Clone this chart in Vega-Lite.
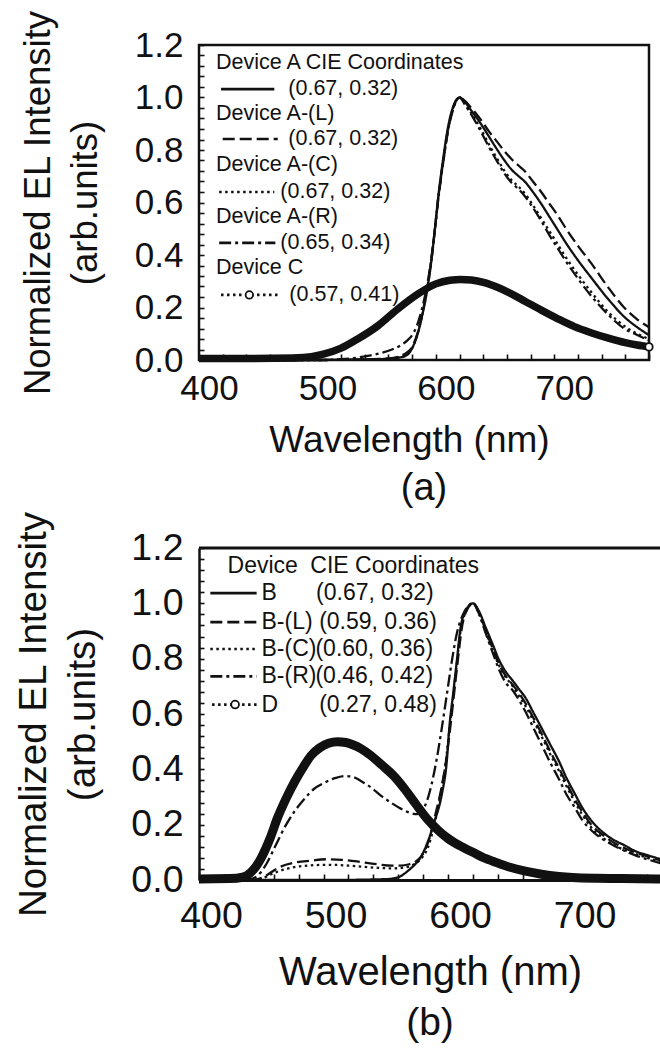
{
  "$schema": "https://vega.github.io/schema/vega-lite/v6.json",
  "padding": {"left": 14, "top": 8, "right": 0, "bottom": 0},
  "spacing": 0,
  "background": "white",
  "config": {
    "font": "Liberation Sans",
    "view": {"stroke": null},
    "axis": {
      "grid": false,
      "domain": false,
      "labelColor": "#111",
      "titleColor": "#111",
      "tickColor": "#111",
      "tickWidth": 1.6,
      "labelFont": "Liberation Sans",
      "titleFont": "Liberation Sans",
      "titleFontWeight": "normal",
      "labelOverlap": false,
      "labelFlush": false
    },
    "title": {"font": "Liberation Sans", "fontWeight": "normal", "color": "#111"}
  },
  "datasets": {
    "redA": [
      {"s":"A","x":400,"y":0},{"s":"A","x":450,"y":0},{"s":"A","x":500,"y":0},{"s":"A","x":540,"y":0.002},{"s":"A","x":560,"y":0.005},{"s":"A","x":570,"y":0.01},{"s":"A","x":576,"y":0.02},{"s":"A","x":580,"y":0.045},{"s":"A","x":584,"y":0.09},{"s":"A","x":588,"y":0.16},{"s":"A","x":592,"y":0.25},{"s":"A","x":596,"y":0.37},{"s":"A","x":599,"y":0.49},{"s":"A","x":602,"y":0.62},{"s":"A","x":606,"y":0.76},{"s":"A","x":610,"y":0.88},{"s":"A","x":615,"y":0.97},{"s":"A","x":620,"y":1.0},{"s":"A","x":625,"y":0.98},{"s":"A","x":630,"y":0.95},{"s":"A","x":638,"y":0.9},{"s":"A","x":645,"y":0.85},{"s":"A","x":652,"y":0.8},{"s":"A","x":658,"y":0.76},{"s":"A","x":664,"y":0.725},{"s":"A","x":670,"y":0.7},{"s":"A","x":675,"y":0.68},{"s":"A","x":682,"y":0.64},{"s":"A","x":689,"y":0.595},{"s":"A","x":696,"y":0.545},{"s":"A","x":703,"y":0.495},{"s":"A","x":710,"y":0.445},{"s":"A","x":720,"y":0.38},{"s":"A","x":731,"y":0.315},{"s":"A","x":745,"y":0.235},{"s":"A","x":759,"y":0.165},{"s":"A","x":770,"y":0.125},{"s":"A","x":780,"y":0.095},
      {"s":"A-(L)","x":400,"y":0},{"s":"A-(L)","x":500,"y":0},{"s":"A-(L)","x":540,"y":0.003},{"s":"A-(L)","x":560,"y":0.006},{"s":"A-(L)","x":570,"y":0.015},{"s":"A-(L)","x":576,"y":0.03},{"s":"A-(L)","x":580,"y":0.05},{"s":"A-(L)","x":584,"y":0.095},{"s":"A-(L)","x":588,"y":0.165},{"s":"A-(L)","x":592,"y":0.255},{"s":"A-(L)","x":596,"y":0.375},{"s":"A-(L)","x":599,"y":0.49},{"s":"A-(L)","x":602,"y":0.615},{"s":"A-(L)","x":606,"y":0.75},{"s":"A-(L)","x":610,"y":0.87},{"s":"A-(L)","x":615,"y":0.965},{"s":"A-(L)","x":620,"y":1.0},{"s":"A-(L)","x":625,"y":0.985},{"s":"A-(L)","x":630,"y":0.96},{"s":"A-(L)","x":638,"y":0.915},{"s":"A-(L)","x":645,"y":0.87},{"s":"A-(L)","x":652,"y":0.83},{"s":"A-(L)","x":658,"y":0.795},{"s":"A-(L)","x":664,"y":0.765},{"s":"A-(L)","x":670,"y":0.74},{"s":"A-(L)","x":675,"y":0.72},{"s":"A-(L)","x":682,"y":0.68},{"s":"A-(L)","x":689,"y":0.64},{"s":"A-(L)","x":696,"y":0.595},{"s":"A-(L)","x":703,"y":0.55},{"s":"A-(L)","x":710,"y":0.5},{"s":"A-(L)","x":720,"y":0.435},{"s":"A-(L)","x":731,"y":0.37},{"s":"A-(L)","x":745,"y":0.28},{"s":"A-(L)","x":759,"y":0.2},{"s":"A-(L)","x":770,"y":0.155},{"s":"A-(L)","x":780,"y":0.125},
      {"s":"A-(C)","x":400,"y":0},{"s":"A-(C)","x":500,"y":0},{"s":"A-(C)","x":540,"y":0.002},{"s":"A-(C)","x":560,"y":0.005},{"s":"A-(C)","x":570,"y":0.012},{"s":"A-(C)","x":576,"y":0.022},{"s":"A-(C)","x":580,"y":0.045},{"s":"A-(C)","x":584,"y":0.09},{"s":"A-(C)","x":588,"y":0.16},{"s":"A-(C)","x":592,"y":0.25},{"s":"A-(C)","x":596,"y":0.37},{"s":"A-(C)","x":599,"y":0.49},{"s":"A-(C)","x":602,"y":0.615},{"s":"A-(C)","x":606,"y":0.75},{"s":"A-(C)","x":610,"y":0.87},{"s":"A-(C)","x":615,"y":0.965},{"s":"A-(C)","x":620,"y":1.0},{"s":"A-(C)","x":625,"y":0.975},{"s":"A-(C)","x":630,"y":0.94},{"s":"A-(C)","x":638,"y":0.88},{"s":"A-(C)","x":645,"y":0.82},{"s":"A-(C)","x":652,"y":0.765},{"s":"A-(C)","x":658,"y":0.72},{"s":"A-(C)","x":664,"y":0.685},{"s":"A-(C)","x":670,"y":0.66},{"s":"A-(C)","x":675,"y":0.635},{"s":"A-(C)","x":682,"y":0.59},{"s":"A-(C)","x":689,"y":0.54},{"s":"A-(C)","x":696,"y":0.49},{"s":"A-(C)","x":703,"y":0.44},{"s":"A-(C)","x":710,"y":0.39},{"s":"A-(C)","x":720,"y":0.325},{"s":"A-(C)","x":731,"y":0.26},{"s":"A-(C)","x":745,"y":0.185},{"s":"A-(C)","x":759,"y":0.13},{"s":"A-(C)","x":770,"y":0.1},{"s":"A-(C)","x":780,"y":0.08},
      {"s":"A-(R)","x":400,"y":0},{"s":"A-(R)","x":500,"y":0},{"s":"A-(R)","x":520,"y":0.003},{"s":"A-(R)","x":535,"y":0.01},{"s":"A-(R)","x":545,"y":0.018},{"s":"A-(R)","x":555,"y":0.028},{"s":"A-(R)","x":563,"y":0.04},{"s":"A-(R)","x":570,"y":0.055},{"s":"A-(R)","x":576,"y":0.075},{"s":"A-(R)","x":580,"y":0.095},{"s":"A-(R)","x":584,"y":0.13},{"s":"A-(R)","x":588,"y":0.19},{"s":"A-(R)","x":592,"y":0.27},{"s":"A-(R)","x":596,"y":0.38},{"s":"A-(R)","x":599,"y":0.49},{"s":"A-(R)","x":602,"y":0.61},{"s":"A-(R)","x":606,"y":0.745},{"s":"A-(R)","x":610,"y":0.865},{"s":"A-(R)","x":615,"y":0.96},{"s":"A-(R)","x":620,"y":1.0},{"s":"A-(R)","x":625,"y":0.97},{"s":"A-(R)","x":630,"y":0.935},{"s":"A-(R)","x":638,"y":0.87},{"s":"A-(R)","x":645,"y":0.81},{"s":"A-(R)","x":652,"y":0.755},{"s":"A-(R)","x":658,"y":0.71},{"s":"A-(R)","x":664,"y":0.675},{"s":"A-(R)","x":670,"y":0.65},{"s":"A-(R)","x":675,"y":0.625},{"s":"A-(R)","x":682,"y":0.58},{"s":"A-(R)","x":689,"y":0.53},{"s":"A-(R)","x":696,"y":0.475},{"s":"A-(R)","x":703,"y":0.425},{"s":"A-(R)","x":710,"y":0.375},{"s":"A-(R)","x":720,"y":0.31},{"s":"A-(R)","x":731,"y":0.245},{"s":"A-(R)","x":745,"y":0.175},{"s":"A-(R)","x":759,"y":0.12},{"s":"A-(R)","x":770,"y":0.095},{"s":"A-(R)","x":780,"y":0.075}
    ],
    "devC": [
      {"x":400,"y":0.006},{"x":440,"y":0.006},{"x":480,"y":0.008},{"x":495,"y":0.013},{"x":505,"y":0.022},{"x":520,"y":0.045},{"x":534,"y":0.08},{"x":551,"y":0.13},{"x":568,"y":0.195},{"x":585,"y":0.252},{"x":600,"y":0.29},{"x":612,"y":0.304},{"x":621,"y":0.307},{"x":630,"y":0.305},{"x":641,"y":0.295},{"x":652,"y":0.277},{"x":663,"y":0.254},{"x":676,"y":0.222},{"x":689,"y":0.19},{"x":703,"y":0.157},{"x":717,"y":0.127},{"x":731,"y":0.104},{"x":745,"y":0.084},{"x":760,"y":0.066},{"x":770,"y":0.057},{"x":780,"y":0.05}
    ],
    "legA": [
      {"s":"A","x":418.6,"y":1.032},{"s":"A","x":463.6,"y":1.032},
      {"s":"A-(L)","x":420,"y":0.842},{"s":"A-(L)","x":466.5,"y":0.842},
      {"s":"A-(C)","x":417,"y":0.64},{"s":"A-(C)","x":463.6,"y":0.64},
      {"s":"A-(R)","x":417,"y":0.446},{"s":"A-(R)","x":464.5,"y":0.446},
      {"s":"C","x":418.6,"y":0.248},{"s":"C","x":466.5,"y":0.248}
    ],
    "ptsA": [{"x":780,"y":0.05},{"x":442.5,"y":0.248}],
    "textA": [
      {"t":"Device A  CIE Coordinates","x":414.4,"y":1.133},
      {"t":"(0.67, 0.32)","x":475.4,"y":1.032},
      {"t":"Device A-(L)","x":414.4,"y":0.937},
      {"t":"(0.67, 0.32)","x":475.4,"y":0.842},
      {"t":"Device A-(C)","x":414.4,"y":0.743},
      {"t":"(0.67, 0.32)","x":468.7,"y":0.64},
      {"t":"Device A-(R)","x":414.4,"y":0.545},
      {"t":"(0.65, 0.34)","x":468.7,"y":0.446},
      {"t":"Device C","x":414.4,"y":0.35},
      {"t":"(0.57, 0.41)","x":476.3,"y":0.248}
    ],
    "redB": [
      {"s":"B","x":400,"y":0},{"s":"B","x":500,"y":0},{"s":"B","x":550,"y":0.003},{"s":"B","x":560,"y":0.01},{"s":"B","x":567,"y":0.03},{"s":"B","x":572,"y":0.05},{"s":"B","x":577,"y":0.075},{"s":"B","x":583,"y":0.13},{"s":"B","x":589,"y":0.21},{"s":"B","x":595,"y":0.31},{"s":"B","x":599,"y":0.43},{"s":"B","x":601,"y":0.55},{"s":"B","x":604,"y":0.67},{"s":"B","x":607,"y":0.79},{"s":"B","x":610,"y":0.91},{"s":"B","x":615,"y":0.98},{"s":"B","x":620,"y":1.0},{"s":"B","x":625,"y":0.97},{"s":"B","x":630,"y":0.915},{"s":"B","x":636,"y":0.85},{"s":"B","x":641,"y":0.795},{"s":"B","x":646,"y":0.755},{"s":"B","x":652,"y":0.72},{"s":"B","x":657,"y":0.69},{"s":"B","x":662,"y":0.66},{"s":"B","x":668,"y":0.61},{"s":"B","x":675,"y":0.55},{"s":"B","x":682,"y":0.49},{"s":"B","x":689,"y":0.43},{"s":"B","x":695,"y":0.37},{"s":"B","x":702,"y":0.31},{"s":"B","x":708,"y":0.26},{"s":"B","x":715,"y":0.215},{"s":"B","x":725,"y":0.17},{"s":"B","x":735,"y":0.14},{"s":"B","x":742,"y":0.125},{"s":"B","x":750,"y":0.105},{"s":"B","x":760,"y":0.09},{"s":"B","x":771,"y":0.075},
      {"s":"B-(L)","x":400,"y":0},{"s":"B-(L)","x":440,"y":0},{"s":"B-(L)","x":450,"y":0.007},{"s":"B-(L)","x":457,"y":0.025},{"s":"B-(L)","x":464,"y":0.045},{"s":"B-(L)","x":477,"y":0.063},{"s":"B-(L)","x":490,"y":0.07},{"s":"B-(L)","x":503,"y":0.075},{"s":"B-(L)","x":515,"y":0.073},{"s":"B-(L)","x":525,"y":0.068},{"s":"B-(L)","x":543,"y":0.057},{"s":"B-(L)","x":555,"y":0.052},{"s":"B-(L)","x":562,"y":0.052},{"s":"B-(L)","x":568,"y":0.056},{"s":"B-(L)","x":575,"y":0.07},{"s":"B-(L)","x":580,"y":0.095},{"s":"B-(L)","x":585,"y":0.15},{"s":"B-(L)","x":590,"y":0.24},{"s":"B-(L)","x":595,"y":0.34},{"s":"B-(L)","x":599,"y":0.45},{"s":"B-(L)","x":602,"y":0.56},{"s":"B-(L)","x":605,"y":0.68},{"s":"B-(L)","x":608,"y":0.8},{"s":"B-(L)","x":611,"y":0.91},{"s":"B-(L)","x":615,"y":0.975},{"s":"B-(L)","x":620,"y":1.0},{"s":"B-(L)","x":625,"y":0.965},{"s":"B-(L)","x":630,"y":0.905},{"s":"B-(L)","x":636,"y":0.835},{"s":"B-(L)","x":641,"y":0.78},{"s":"B-(L)","x":646,"y":0.74},{"s":"B-(L)","x":652,"y":0.705},{"s":"B-(L)","x":657,"y":0.675},{"s":"B-(L)","x":662,"y":0.64},{"s":"B-(L)","x":668,"y":0.59},{"s":"B-(L)","x":675,"y":0.53},{"s":"B-(L)","x":682,"y":0.465},{"s":"B-(L)","x":689,"y":0.405},{"s":"B-(L)","x":695,"y":0.35},{"s":"B-(L)","x":702,"y":0.29},{"s":"B-(L)","x":708,"y":0.245},{"s":"B-(L)","x":715,"y":0.2},{"s":"B-(L)","x":725,"y":0.16},{"s":"B-(L)","x":735,"y":0.13},{"s":"B-(L)","x":742,"y":0.115},{"s":"B-(L)","x":750,"y":0.1},{"s":"B-(L)","x":760,"y":0.085},{"s":"B-(L)","x":771,"y":0.07},
      {"s":"B-(C)","x":400,"y":0},{"s":"B-(C)","x":440,"y":0},{"s":"B-(C)","x":450,"y":0.005},{"s":"B-(C)","x":460,"y":0.025},{"s":"B-(C)","x":475,"y":0.045},{"s":"B-(C)","x":490,"y":0.053},{"s":"B-(C)","x":505,"y":0.055},{"s":"B-(C)","x":520,"y":0.052},{"s":"B-(C)","x":540,"y":0.045},{"s":"B-(C)","x":555,"y":0.042},{"s":"B-(C)","x":565,"y":0.045},{"s":"B-(C)","x":572,"y":0.055},{"s":"B-(C)","x":578,"y":0.075},{"s":"B-(C)","x":584,"y":0.12},{"s":"B-(C)","x":589,"y":0.2},{"s":"B-(C)","x":594,"y":0.31},{"s":"B-(C)","x":598,"y":0.42},{"s":"B-(C)","x":601,"y":0.54},{"s":"B-(C)","x":604,"y":0.66},{"s":"B-(C)","x":607,"y":0.78},{"s":"B-(C)","x":610,"y":0.9},{"s":"B-(C)","x":615,"y":0.975},{"s":"B-(C)","x":620,"y":1.0},{"s":"B-(C)","x":625,"y":0.96},{"s":"B-(C)","x":630,"y":0.9},{"s":"B-(C)","x":636,"y":0.83},{"s":"B-(C)","x":641,"y":0.775},{"s":"B-(C)","x":646,"y":0.735},{"s":"B-(C)","x":652,"y":0.7},{"s":"B-(C)","x":657,"y":0.665},{"s":"B-(C)","x":662,"y":0.63},{"s":"B-(C)","x":668,"y":0.58},{"s":"B-(C)","x":675,"y":0.52},{"s":"B-(C)","x":682,"y":0.455},{"s":"B-(C)","x":689,"y":0.395},{"s":"B-(C)","x":695,"y":0.34},{"s":"B-(C)","x":702,"y":0.28},{"s":"B-(C)","x":708,"y":0.235},{"s":"B-(C)","x":715,"y":0.19},{"s":"B-(C)","x":725,"y":0.15},{"s":"B-(C)","x":735,"y":0.122},{"s":"B-(C)","x":742,"y":0.108},{"s":"B-(C)","x":750,"y":0.095},{"s":"B-(C)","x":760,"y":0.08},{"s":"B-(C)","x":771,"y":0.065},
      {"s":"B-(R)","x":400,"y":0},{"s":"B-(R)","x":435,"y":0},{"s":"B-(R)","x":443,"y":0.005},{"s":"B-(R)","x":450,"y":0.03},{"s":"B-(R)","x":455,"y":0.065},{"s":"B-(R)","x":461,"y":0.12},{"s":"B-(R)","x":470,"y":0.2},{"s":"B-(R)","x":477,"y":0.25},{"s":"B-(R)","x":485,"y":0.295},{"s":"B-(R)","x":492,"y":0.328},{"s":"B-(R)","x":500,"y":0.35},{"s":"B-(R)","x":509,"y":0.368},{"s":"B-(R)","x":517,"y":0.376},{"s":"B-(R)","x":524,"y":0.372},{"s":"B-(R)","x":530,"y":0.358},{"s":"B-(R)","x":538,"y":0.335},{"s":"B-(R)","x":546,"y":0.305},{"s":"B-(R)","x":554,"y":0.28},{"s":"B-(R)","x":562,"y":0.258},{"s":"B-(R)","x":570,"y":0.242},{"s":"B-(R)","x":575,"y":0.238},{"s":"B-(R)","x":579,"y":0.25},{"s":"B-(R)","x":583,"y":0.285},{"s":"B-(R)","x":587,"y":0.35},{"s":"B-(R)","x":591,"y":0.44},{"s":"B-(R)","x":595,"y":0.55},{"s":"B-(R)","x":599,"y":0.67},{"s":"B-(R)","x":603,"y":0.79},{"s":"B-(R)","x":607,"y":0.89},{"s":"B-(R)","x":612,"y":0.96},{"s":"B-(R)","x":620,"y":1.0},{"s":"B-(R)","x":625,"y":0.96},{"s":"B-(R)","x":630,"y":0.895},{"s":"B-(R)","x":636,"y":0.82},{"s":"B-(R)","x":641,"y":0.76},{"s":"B-(R)","x":646,"y":0.715},{"s":"B-(R)","x":652,"y":0.685},{"s":"B-(R)","x":657,"y":0.65},{"s":"B-(R)","x":662,"y":0.61},{"s":"B-(R)","x":668,"y":0.555},{"s":"B-(R)","x":675,"y":0.49},{"s":"B-(R)","x":682,"y":0.425},{"s":"B-(R)","x":689,"y":0.365},{"s":"B-(R)","x":695,"y":0.31},{"s":"B-(R)","x":702,"y":0.26},{"s":"B-(R)","x":708,"y":0.215},{"s":"B-(R)","x":715,"y":0.18},{"s":"B-(R)","x":725,"y":0.145},{"s":"B-(R)","x":735,"y":0.12},{"s":"B-(R)","x":742,"y":0.105},{"s":"B-(R)","x":750,"y":0.09},{"s":"B-(R)","x":760,"y":0.075},{"s":"B-(R)","x":771,"y":0.06}
    ],
    "devD": [
      {"x":400,"y":0.004},{"x":425,"y":0.005},{"x":435,"y":0.01},{"x":441,"y":0.025},{"x":446,"y":0.05},{"x":450,"y":0.08},{"x":457,"y":0.15},{"x":463,"y":0.224},{"x":470,"y":0.295},{"x":477,"y":0.357},{"x":484,"y":0.41},{"x":490,"y":0.45},{"x":497,"y":0.478},{"x":504,"y":0.494},{"x":511,"y":0.5},{"x":518,"y":0.497},{"x":524,"y":0.488},{"x":530,"y":0.475},{"x":538,"y":0.45},{"x":547,"y":0.415},{"x":556,"y":0.378},{"x":565,"y":0.33},{"x":574,"y":0.275},{"x":583,"y":0.222},{"x":592,"y":0.18},{"x":600,"y":0.15},{"x":609,"y":0.125},{"x":620,"y":0.1},{"x":630,"y":0.078},{"x":636,"y":0.068},{"x":649,"y":0.047},{"x":662,"y":0.032},{"x":675,"y":0.021},{"x":689,"y":0.013},{"x":700,"y":0.009},{"x":720,"y":0.006},{"x":740,"y":0.005},{"x":771,"y":0.004}
    ],
    "legB": [
      {"s":"B","x":409.1,"y":1.037},{"s":"B","x":446.3,"y":1.037},
      {"s":"B-(L)","x":409.1,"y":0.932},{"s":"B-(L)","x":446.3,"y":0.932},
      {"s":"B-(C)","x":409.1,"y":0.835},{"s":"B-(C)","x":446.3,"y":0.835},
      {"s":"B-(R)","x":409.1,"y":0.736},{"s":"B-(R)","x":446.3,"y":0.736},
      {"s":"D","x":410.5,"y":0.634},{"s":"D","x":446.3,"y":0.634}
    ],
    "ptsB": [{"x":429,"y":0.634}],
    "topB": [{"x":400,"y":1.2},{"x":771,"y":1.2}],
    "textB": [
      {"t":"Device","x":422.9,"y":1.136},
      {"t":"CIE Coordinates","x":489.4,"y":1.136},
      {"t":"B","x":450.2,"y":1.037},
      {"t":"(0.67, 0.32)","x":494,"y":1.037},
      {"t":"B-(L)","x":450.2,"y":0.932},
      {"t":"(0.59, 0.36)","x":496.5,"y":0.932},
      {"t":"B-(C)","x":450.2,"y":0.835},
      {"t":"(0.60, 0.36)","x":493.5,"y":0.835},
      {"t":"B-(R)","x":450.2,"y":0.736},
      {"t":"(0.46, 0.42)","x":493.5,"y":0.736},
      {"t":"D","x":450.2,"y":0.634},
      {"t":"(0.27, 0.48)","x":496.5,"y":0.634}
    ]
  },
  "vconcat": [
    {
      "width": 450,
      "height": 315,
      "view": {"stroke": "#111", "strokeWidth": 2.5},
      "title": {"text": "(a)", "orient": "bottom", "fontSize": 38, "offset": 12, "frame": "group", "anchor": "middle"},
      "encoding": {
        "x": {
          "field": "x", "type": "quantitative",
          "scale": {"domain": [400, 780], "nice": false, "zero": false},
          "axis": {
            "values": [400,420,440,460,480,500,520,540,560,580,600,620,640,660,680,700,720,740,760,780],
            "labelExpr": "datum.value % 100 === 0 && datum.value < 780 ? datum.label : ''",
            "tickSize": -6, "labelPadding": 17, "labelOffset": 10, "labelFontSize": 35,
            "title": "Wavelength (nm)", "titleFontSize": 37, "titlePadding": 16, "titleX": 210
          }
        },
        "y": {
          "field": "y", "type": "quantitative",
          "scale": {"domain": [0, 1.2], "nice": false, "zero": false},
          "axis": {
            "values": [0,0.04,0.08,0.12,0.16,0.2,0.24,0.28,0.32,0.36,0.4,0.44,0.48,0.52,0.56,0.6,0.64,0.68,0.72,0.76,0.8,0.84,0.88,0.92,0.96,1,1.04,1.08,1.12,1.16,1.2],
            "labelExpr": "abs(datum.value * 5 - round(datum.value * 5)) < 0.001 ? format(datum.value, '.1f') : ''",
            "tickSize": -5, "labelPadding": 21, "labelFontSize": 35,
            "title": ["Normalized EL Intensity", "(arb.units)"], "titleFontSize": 36.5, "titleLineHeight": 47, "titlePadding": 30
          }
        }
      },
      "layer": [
        {
          "data": {"name": "devC"},
          "mark": {"type": "line", "interpolate": "monotone", "color": "#111", "strokeWidth": 7.5}
        },
        {
          "data": {"name": "redA"},
          "mark": {"type": "line", "interpolate": "monotone", "color": "#111", "strokeWidth": 2.3},
          "encoding": {
            "strokeDash": {"field": "s", "type": "nominal", "legend": null,
              "scale": {"domain": ["A", "A-(L)", "A-(C)", "A-(R)", "C"], "range": [[1, 0], [12, 5], [2.5, 3.5], [12, 4, 3, 4], [2.5, 3.5]]}}
          }
        },
        {
          "data": {"name": "legA"},
          "mark": {"type": "line", "color": "#111", "strokeWidth": 2.7},
          "encoding": {
            "strokeDash": {"field": "s", "type": "nominal", "legend": null,
              "scale": {"domain": ["A", "A-(L)", "A-(C)", "A-(R)", "C"], "range": [[1, 0], [12, 5], [2.5, 3.5], [12, 4, 3, 4], [2.5, 3.5]]}}
          }
        },
        {
          "data": {"name": "ptsA"},
          "mark": {"type": "point", "shape": "circle", "filled": true, "fill": "white", "stroke": "#111", "strokeWidth": 1.8, "size": 55, "opacity": 1}
        },
        {
          "data": {"name": "textA"},
          "mark": {"type": "text", "align": "left", "baseline": "middle", "fontSize": 21.5, "font": "Liberation Sans", "color": "#111"},
          "encoding": {"text": {"field": "t"}}
        }
      ]
    },
    {
      "width": 462,
      "height": 332,
      "view": {"stroke": null},
      "title": {"text": "(b)", "orient": "bottom", "fontSize": 39, "offset": 11, "frame": "group", "anchor": "middle"},
      "encoding": {
        "x": {
          "field": "x", "type": "quantitative",
          "scale": {"domain": [400, 771], "nice": false, "zero": false},
          "axis": {
            "values": [400,420,440,460,480,500,520,540,560,580,600,620,640,660,680,700,720,740,760],
            "labelExpr": "datum.value % 100 === 0 ? datum.label : ''",
            "domain": true, "domainColor": "#111", "domainWidth": 3,
            "tickSize": -6, "labelPadding": 23, "labelOffset": 12, "labelFontSize": 37.5,
            "title": "Wavelength (nm)", "titleFontSize": 40, "titlePadding": 18
          }
        },
        "y": {
          "field": "y", "type": "quantitative",
          "scale": {"domain": [0, 1.2], "nice": false, "zero": false},
          "axis": {
            "values": [0,0.04,0.08,0.12,0.16,0.2,0.24,0.28,0.32,0.36,0.4,0.44,0.48,0.52,0.56,0.6,0.64,0.68,0.72,0.76,0.8,0.84,0.88,0.92,0.96,1,1.04,1.08,1.12,1.16,1.2],
            "labelExpr": "abs(datum.value * 5 - round(datum.value * 5)) < 0.001 ? format(datum.value, '.1f') : ''",
            "domain": true, "domainColor": "#111", "domainWidth": 2.5,
            "tickSize": -5, "labelPadding": 21, "labelFontSize": 37.5,
            "title": ["Normalized EL Intensity", "(arb.units)"], "titleFontSize": 38.5, "titleLineHeight": 49, "titlePadding": 28
          }
        }
      },
      "layer": [
        {
          "data": {"name": "topB"},
          "mark": {"type": "line", "color": "#111", "strokeWidth": 3, "clip": false}
        },
        {
          "data": {"name": "devD"},
          "mark": {"type": "line", "interpolate": "monotone", "color": "#111", "strokeWidth": 9}
        },
        {
          "data": {"name": "redB"},
          "mark": {"type": "line", "interpolate": "monotone", "color": "#111", "strokeWidth": 2.3},
          "encoding": {
            "strokeDash": {"field": "s", "type": "nominal", "legend": null,
              "scale": {"domain": ["B", "B-(L)", "B-(C)", "B-(R)", "D"], "range": [[1, 0], [2, 5, 13, 5, 13, 5], [2.5, 3], [13, 4, 2.5, 4, 2.5, 4], [2.5, 3]]}}
          }
        },
        {
          "data": {"name": "legB"},
          "mark": {"type": "line", "color": "#111", "strokeWidth": 2.7},
          "encoding": {
            "strokeDash": {"field": "s", "type": "nominal", "legend": null,
              "scale": {"domain": ["B", "B-(L)", "B-(C)", "B-(R)", "D"], "range": [[1, 0], [2, 5, 13, 5, 13, 5], [2.5, 3], [13, 4, 2.5, 4, 2.5, 4], [2.5, 3]]}}
          }
        },
        {
          "data": {"name": "ptsB"},
          "mark": {"type": "point", "shape": "circle", "filled": true, "fill": "white", "stroke": "#111", "strokeWidth": 1.8, "size": 60, "opacity": 1}
        },
        {
          "data": {"name": "textB"},
          "mark": {"type": "text", "align": "left", "baseline": "middle", "fontSize": 23, "font": "Liberation Sans", "color": "#111"},
          "encoding": {"text": {"field": "t"}}
        }
      ]
    }
  ]
}
